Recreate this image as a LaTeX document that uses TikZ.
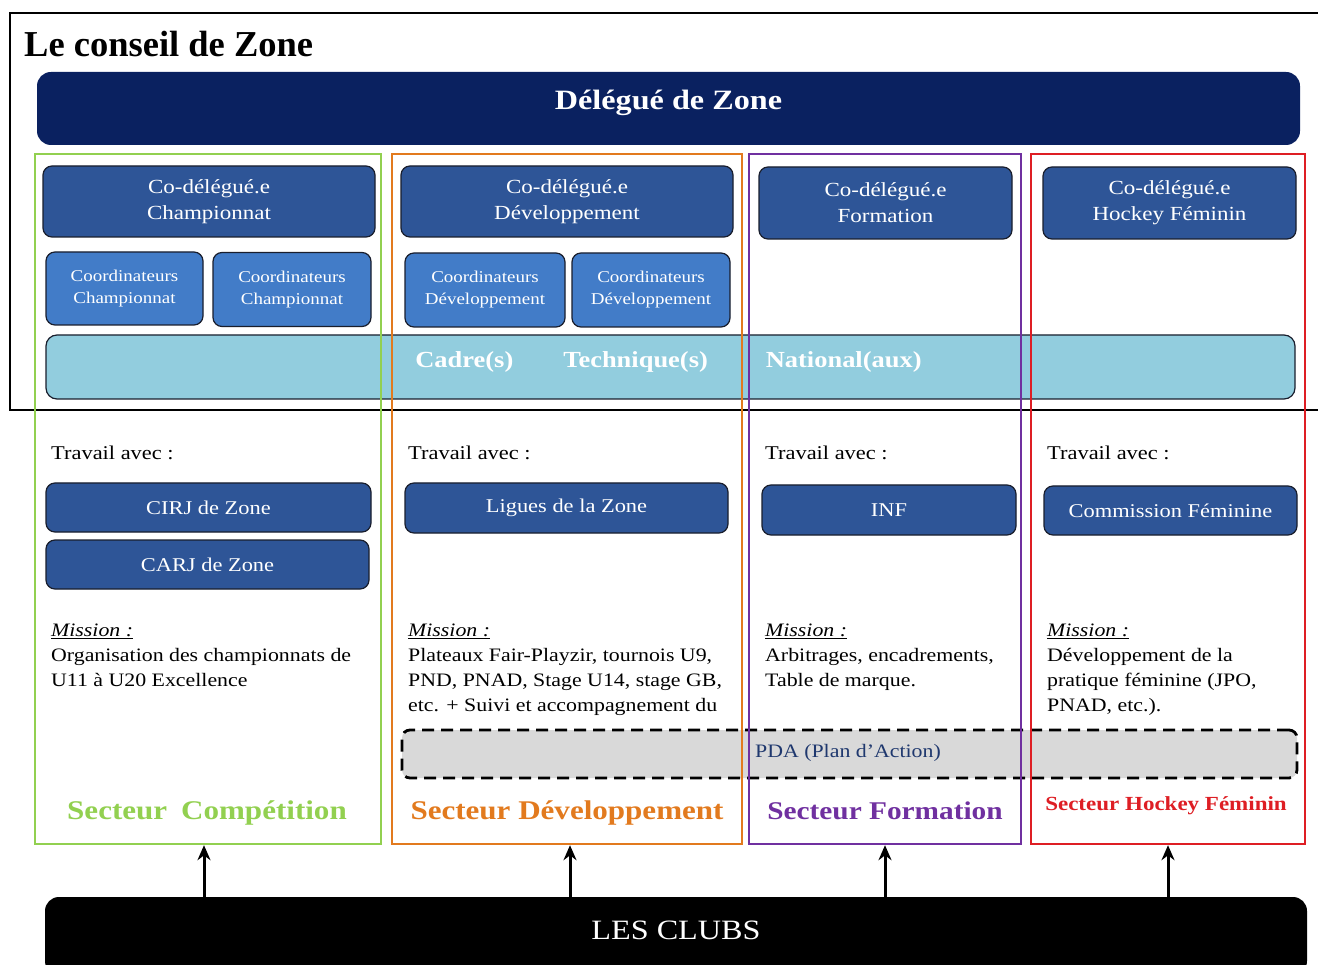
\documentclass[tikz,border=0pt]{standalone}
\usepackage{fontspec}
\setmainfont{Liberation Serif}
\newfontfamily\wide{Liberation Serif}[FakeStretch=1.15]
\usetikzlibrary{arrows.meta}
\definecolor{navy}{RGB}{10,33,96}
\definecolor{codel}{RGB}{46,85,151}
\definecolor{coord}{RGB}{66,124,200}
\definecolor{cadre}{RGB}{146,205,222}
\definecolor{secgreen}{RGB}{146,208,80}
\definecolor{secorange}{RGB}{226,122,30}
\definecolor{secpurple}{RGB}{112,48,160}
\definecolor{secred}{RGB}{222,30,36}
\definecolor{pdafill}{RGB}{217,217,217}
\definecolor{pdatext}{RGB}{31,56,110}
\definecolor{boxline}{RGB}{25,30,45}
\newcommand{\fsz}[2]{\fontsize{#1}{#2}\selectfont}
\begin{document}
\begin{tikzpicture}[x=1pt,y=-1pt,
  box/.style={draw=boxline, line width=1.2pt, rounded corners=9pt, inner sep=0pt, text=white, align=center},
  codelbox/.style={box, fill=codel, font=\wide\fsz{20}{26}},
  coordbox/.style={box, fill=coord, font=\wide\fsz{16.5}{22}},
  withbox/.style={box, fill=codel, font=\wide\fsz{19.5}{24}},
  sector/.style={draw, line width=2.4pt, inner sep=0pt},
  plain/.style={inner sep=0pt, align=left, anchor=north west, font=\wide\fsz{19}{25}},
  travail/.style={inner sep=0pt, anchor=west, font=\wide\fsz{19.5}{24}},
  seclabel/.style={inner sep=0pt, font=\wide\bfseries\fsz{27}{30}},
  uparrow/.style={line width=3pt, -{Stealth[length=15pt,width=13pt]}}]
\clip (0,0) rectangle (1318,965);
\fill[white] (0,0) rectangle (1318,965);

% outer frame
\draw[line width=2.6pt] (10,13) rectangle (1340,410);
\node[anchor=west, inner sep=0pt, font=\bfseries\fsz{36.5}{38}] (title) at (24,44) {Le conseil de Zone};

\node[box, fill=navy, rounded corners=14pt, draw=none, minimum width=1263pt, minimum height=73pt] (delegue) at (668.5,108.5) {};
\node[inner sep=0pt, text=white, font=\wide\bfseries\fsz{28}{30}] (deleguetxt) at (668.5,103) {Délégué de Zone};

% co-delegues
\node[codelbox, minimum width=332pt, minimum height=71pt] (cd1) at (209,201.5) {Co-délégué.e\\Championnat};
\node[codelbox, minimum width=332pt, minimum height=71pt] (cd2) at (567,201.5) {Co-délégué.e\\Développement};
\node[codelbox, minimum width=253pt, minimum height=72pt] (cd3) at (885.5,203) {Co-délégué.e\\Formation};
\node[codelbox, minimum width=253pt, minimum height=72pt] (cd4) at (1169.5,203) {Co-délégué.e\\Hockey Féminin};

% coordinateurs
\node[coordbox, minimum width=157pt, minimum height=73pt] (co1) at (124.5,288.5) {Coordinateurs\\Championnat};
\node[coordbox, minimum width=158pt, minimum height=74pt] (co2) at (292,289.5) {Coordinateurs\\Championnat};
\node[coordbox, minimum width=160pt, minimum height=74pt] (co3) at (485,290) {Coordinateurs\\Développement};
\node[coordbox, minimum width=158pt, minimum height=74pt] (co4) at (651,290) {Coordinateurs\\Développement};

% cadre technique
\node[box, fill=cadre, rounded corners=11pt, minimum width=1249pt, minimum height=64pt] (cadre) at (670.5,367) {};
\node[inner sep=0pt, text=white, font=\wide\bfseries\fsz{23}{26}] (cadretxt) at (668.5,362)
  {Cadre(s)\hspace{50pt}Technique(s)\hspace{58pt}National(aux)};

% travail avec
\node[travail] (tr1) at (51,453) {Travail avec :};
\node[travail] (tr2) at (408,453) {Travail avec :};
\node[travail] (tr3) at (765,453) {Travail avec :};
\node[travail] (tr4) at (1047,453) {Travail avec :};

\node[withbox, minimum width=325pt, minimum height=49pt] (cirj) at (208.5,507.5) {CIRJ de Zone};
\node[withbox, minimum width=323pt, minimum height=49pt] (carj) at (207.5,564.5) {CARJ de Zone};
\node[withbox, minimum width=323pt, minimum height=50pt] (ligues) at (566.5,508) {Ligues de la Zone};
\node[withbox, minimum width=254pt, minimum height=50pt] (inf) at (889,510) {INF};
\node[withbox, minimum width=253pt, minimum height=49pt] (comfem) at (1170.5,510.5) {Commission Féminine};

% missions
\node[plain] (m1) at (51,624) {\underline{\textit{Mission :}}\\Organisation des championnats de\\U11 à U20 Excellence};
\node[plain] (m2) at (408,624) {\underline{\textit{Mission :}}\\Plateaux Fair-Playzir, tournois U9,\\PND, PNAD,  Stage U14, stage GB,\\etc. + Suivi et accompagnement du};
\node[plain] (m3) at (765,624) {\underline{\textit{Mission :}}\\Arbitrages, encadrements,\\Table de marque.};
\node[plain] (m4) at (1047,624) {\underline{\textit{Mission :}}\\Développement de la\\pratique féminine (JPO,\\PNAD, etc.).};

% PDA
\node[draw=black, fill=pdafill, dashed, dash pattern=on 12pt off 7pt, line width=2.8pt, rounded corners=8pt,
  minimum width=895pt, minimum height=48pt, inner sep=0pt] (pda) at (849.5,754) {};
\node[inner sep=0pt, text=pdatext, font=\wide\fsz{19}{22}] (pdatxt) at (848,753) {PDA (Plan d’Action)};

% sector frames
\node[sector, draw=secgreen, minimum width=346pt, minimum height=690pt] (sec1) at (208,499) {};
\node[sector, draw=secorange, minimum width=350pt, minimum height=690pt] (sec2) at (567,499) {};
\node[sector, draw=secpurple, minimum width=272pt, minimum height=690pt] (sec3) at (885,499) {};
\node[sector, draw=secred, minimum width=274pt, minimum height=690pt] (sec4) at (1168,499) {};

\node[seclabel, text=secgreen] (l1) at (207,813) {Secteur\hspace{14pt}Compétition};
\node[seclabel, text=secorange] (l2) at (567,813) {Secteur Développement};
\node[seclabel, text=secpurple, font=\wide\bfseries\fsz{25.5}{30}] (l3) at (885,811) {Secteur Formation};
\node[seclabel, text=secred, font=\wide\bfseries\fsz{20}{24}] (l4) at (1166,806) {Secteur Hockey Féminin};

% clubs
\node[fill=black, rounded corners=14pt, minimum width=1262pt, minimum height=78pt, inner sep=0pt] (clubs) at (676,936) {};
\node[inner sep=0pt, text=white, font=\wide\fsz{28}{30}] (clubstxt) at (676,930) {LES CLUBS};

\draw[uparrow] (clubs.north -| 204,0) -- (sec1.south -| 204,0);
\draw[uparrow] (clubs.north -| 570,0) -- (sec2.south -| 570,0);
\draw[uparrow] (clubs.north -| sec3.south) -- (sec3.south);
\draw[uparrow] (clubs.north -| sec4.south) -- (sec4.south);
\end{tikzpicture}
\end{document}
